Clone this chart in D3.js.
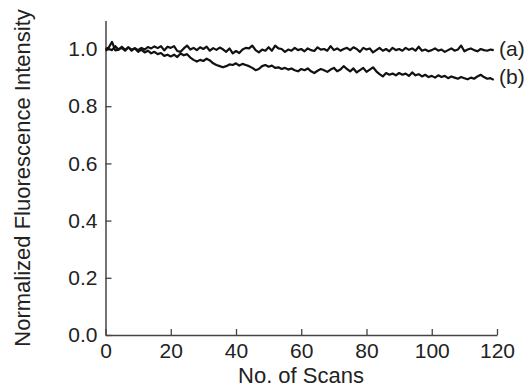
<!DOCTYPE html>
<html><head><meta charset="utf-8">
<script src="https://cdn.jsdelivr.net/npm/d3@7"></script>
<style>body{margin:0;background:#fff}svg{display:block}text{font-family:"Liberation Sans",Arial,sans-serif;fill:#222}</style>
</head><body><svg id="c" width="529" height="389"></svg>
<script>
const scans = d3.range(0, 120);
const seriesA = [
1.000,1.005,1.025,0.995,0.998,1.008,0.997,1.006,0.994,1.003,
0.996,1.004,0.998,1.007,1.002,1.009,1.003,1.010,0.995,1.008,
1.004,1.010,0.993,0.990,1.002,1.012,0.998,1.004,0.996,1.006,
1.000,1.008,0.994,1.003,0.997,1.005,0.999,0.990,1.002,0.985,
0.993,0.986,0.998,1.004,1.002,1.012,0.996,0.988,0.998,0.994,
1.006,0.994,1.012,1.002,1.000,0.990,0.998,0.994,1.004,0.996,
1.000,0.992,1.002,0.996,0.993,1.006,0.998,1.000,0.994,1.010,
0.996,1.002,0.994,1.000,1.004,0.996,1.006,1.000,0.990,1.004,
0.998,1.002,0.988,0.996,1.004,0.994,1.000,0.992,1.004,0.996,
1.000,0.994,1.004,0.997,1.002,0.994,1.008,0.994,0.998,0.992,
0.996,1.002,0.994,0.998,0.990,0.996,1.002,0.994,0.998,1.012,
0.992,0.998,1.002,0.996,0.992,1.000,0.996,0.994,0.998,0.996];
const seriesB = [
0.995,1.000,0.996,1.010,0.998,1.004,0.994,1.006,0.998,1.002,
0.990,0.998,0.988,0.994,0.985,0.990,0.982,0.986,0.976,0.980,
0.974,0.980,0.972,0.984,0.978,0.982,0.970,0.962,0.956,0.962,
0.958,0.966,0.960,0.950,0.944,0.940,0.936,0.940,0.946,0.944,
0.950,0.942,0.948,0.944,0.940,0.934,0.926,0.930,0.940,0.944,
0.938,0.942,0.934,0.936,0.930,0.934,0.928,0.932,0.926,0.922,
0.930,0.926,0.932,0.922,0.916,0.924,0.930,0.926,0.920,0.928,
0.934,0.922,0.928,0.940,0.930,0.922,0.932,0.918,0.926,0.934,
0.920,0.928,0.936,0.922,0.912,0.904,0.916,0.910,0.914,0.908,
0.916,0.910,0.914,0.906,0.918,0.908,0.912,0.904,0.910,0.902,
0.906,0.900,0.908,0.902,0.906,0.898,0.904,0.900,0.896,0.902,
0.898,0.894,0.900,0.896,0.904,0.910,0.902,0.896,0.898,0.892];
const seriesLabels = ["(a)", "(b)"];
const xTicks = [0, 20, 40, 60, 80, 100, 120];
const yTicks = [0.0, 0.2, 0.4, 0.6, 0.8, 1.0];

const svg = d3.select("#c");
const x = d3.scaleLinear().domain([0, 120]).range([105.5, 497]);
const y = d3.scaleLinear().domain([0, 1.1]).range([335, 20.4]);
const axisColor = "#444";

const gx = svg.append("g").attr("transform", "translate(0,335)")
  .call(d3.axisBottom(x).tickValues(xTicks).tickFormat(d3.format("d")).tickSizeInner(-6).tickSizeOuter(0).tickPadding(8));
const gy = svg.append("g").attr("transform", "translate(105.5,0)")
  .call(d3.axisLeft(y).tickValues(yTicks).tickFormat(d3.format(".1f")).tickSizeInner(-6).tickSizeOuter(0).tickPadding(8));
[gx, gy].forEach(g => {
  g.select(".domain").attr("stroke", axisColor).attr("stroke-width", 1.5);
  g.selectAll(".tick line").attr("stroke", axisColor).attr("stroke-width", 1.3);
  g.selectAll(".tick text").style("font-size", "21px").attr("fill", "#222").attr("font-family", null);
});

const line = d3.line().x((d, i) => x(scans[i])).y(d => y(d));
[seriesA, seriesB].forEach(s => {
  svg.append("path").datum(s).attr("d", line).attr("fill", "none")
    .attr("stroke", "#111").attr("stroke-width", 2.2).attr("stroke-linejoin", "round");
});
svg.selectAll(".slab").data(seriesLabels).enter().append("text")
  .attr("x", 499).attr("y", (d, i) => y(d3.mean([seriesA, seriesB][i].slice(-6))) + 6)
  .style("font-size", "21px").text(d => d);

svg.append("text").attr("x", 301).attr("y", 383).attr("text-anchor", "middle")
  .style("font-size", "22px").text("No. of Scans");
svg.append("text").attr("transform", "translate(30,178) rotate(-90)").attr("text-anchor", "middle")
  .style("font-size", "22px").text("Normalized Fluorescence Intensity");
</script></body></html>
